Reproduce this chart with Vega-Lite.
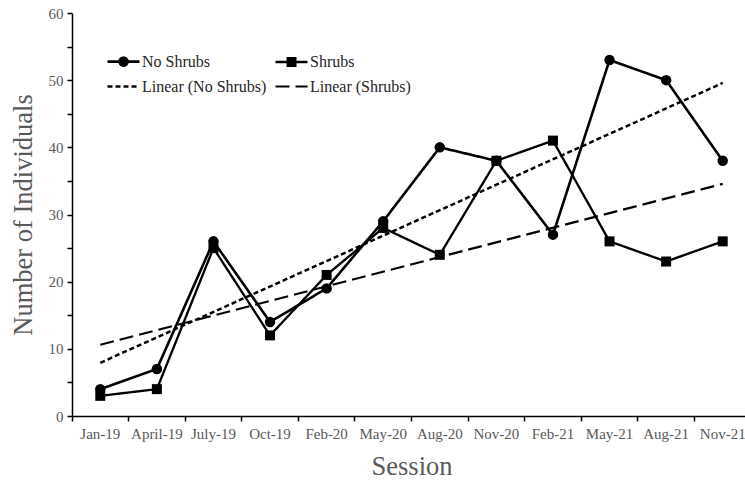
{
  "$schema": "https://vega.github.io/schema/vega-lite/v6.json",
  "width": 673,
  "height": 403,
  "autosize": {"type": "none"},
  "padding": {"left": 72, "top": 13, "right": 0, "bottom": 67},
  "config": {"view": {"stroke": null}, "font": "Liberation Serif", "axis": {"grid": false}},
  "data": {"values": [
    {"session": "Jan-19", "series": "No Shrubs", "value": 4},
    {"session": "April-19", "series": "No Shrubs", "value": 7},
    {"session": "July-19", "series": "No Shrubs", "value": 26},
    {"session": "Oct-19", "series": "No Shrubs", "value": 14},
    {"session": "Feb-20", "series": "No Shrubs", "value": 19},
    {"session": "May-20", "series": "No Shrubs", "value": 29},
    {"session": "Aug-20", "series": "No Shrubs", "value": 40},
    {"session": "Nov-20", "series": "No Shrubs", "value": 38},
    {"session": "Feb-21", "series": "No Shrubs", "value": 27},
    {"session": "May-21", "series": "No Shrubs", "value": 53},
    {"session": "Aug-21", "series": "No Shrubs", "value": 50},
    {"session": "Nov-21", "series": "No Shrubs", "value": 38},
    {"session": "Jan-19", "series": "Shrubs", "value": 3},
    {"session": "April-19", "series": "Shrubs", "value": 4},
    {"session": "July-19", "series": "Shrubs", "value": 25},
    {"session": "Oct-19", "series": "Shrubs", "value": 12},
    {"session": "Feb-20", "series": "Shrubs", "value": 21},
    {"session": "May-20", "series": "Shrubs", "value": 28},
    {"session": "Aug-20", "series": "Shrubs", "value": 24},
    {"session": "Nov-20", "series": "Shrubs", "value": 38},
    {"session": "Feb-21", "series": "Shrubs", "value": 41},
    {"session": "May-21", "series": "Shrubs", "value": 26},
    {"session": "Aug-21", "series": "Shrubs", "value": 23},
    {"session": "Nov-21", "series": "Shrubs", "value": 26},
    {"session": "Jan-19", "series": "Linear (No Shrubs)", "value": 7.92},
    {"session": "Nov-21", "series": "Linear (No Shrubs)", "value": 49.58},
    {"session": "Jan-19", "series": "Linear (Shrubs)", "value": 10.6},
    {"session": "Nov-21", "series": "Linear (Shrubs)", "value": 34.56}
  ]},
  "encoding": {
    "x": {
      "field": "session", "type": "ordinal",
      "sort": ["Jan-19", "April-19", "July-19", "Oct-19", "Feb-20", "May-20", "Aug-20", "Nov-20", "Feb-21", "May-21", "Aug-21", "Nov-21"],
      "scale": {"type": "band", "paddingInner": 0, "paddingOuter": 0, "range": [0, 679]},
      "axis": {
        "title": "Session", "titleFontSize": 26.5, "titleColor": "#595959", "titleFontWeight": "normal", "titlePadding": 12,
        "labelFontSize": 15, "labelColor": "#595959", "labelAngle": 0, "labelOverlap": false,
        "bandPosition": 0, "labelPadding": 5,
        "tickSize": 5, "tickColor": "black", "tickWidth": 1.5, "domainColor": "black", "domainWidth": 1.5
      }
    },
    "y": {
      "field": "value", "type": "quantitative",
      "scale": {"domain": [0, 60], "nice": false},
      "axis": {
        "title": "Number of Individuals", "titleFontSize": 26.5, "titleColor": "#595959", "titleFontWeight": "normal", "titlePadding": 11,
        "values": [0, 5, 10, 15, 20, 25, 30, 35, 40, 45, 50, 55, 60],
        "labelExpr": "datum.value % 10 === 0 ? datum.label : ''",
        "labelFontSize": 15, "labelColor": "#595959", "labelPadding": 4,
        "tickSize": 5, "tickColor": "black", "tickWidth": 1.5, "domainColor": "black", "domainWidth": 1.5
      }
    }
  },
  "layer": [
    {
      "mark": {"type": "line", "color": "black"},
      "encoding": {
        "strokeWidth": {
          "field": "series", "type": "nominal", "legend": null,
          "scale": {"domain": ["No Shrubs", "Linear (No Shrubs)", "Shrubs", "Linear (Shrubs)"], "range": [2.6, 2.2, 2.6, 2.2]}
        },
        "strokeDash": {
          "field": "series", "type": "nominal",
          "scale": {"domain": ["No Shrubs", "Linear (No Shrubs)", "Shrubs", "Linear (Shrubs)"], "range": [[1, 0], [5, 3], [1, 0], [14, 6]]},
          "legend": {
            "title": null, "orient": "none", "legendX": 42, "legendY": 39, "columns": 2,
            "columnPadding": 3, "rowPadding": 6, "symbolSize": 256, "labelOffset": 9,
            "labelFont": "Liberation Serif", "labelFontSize": 16, "labelColor": "#262626",
            "symbolStrokeWidth": 2.5, "symbolStrokeColor": "black", "symbolFillColor": "black", "padding": 0,
            "symbolType": {"expr": "datum.value === 'No Shrubs' ? 'M-2,0L2,0M0.5,0A0.5,0.5 0 1,1 -0.5,0A0.5,0.5 0 1,1 0.5,0Z' : datum.value === 'Shrubs' ? 'M-2,0L2,0M-0.48,-0.48H0.48V0.48H-0.48Z' : 'M-2,0L2,0'"}
          }
        }
      }
    },
    {
      "transform": [{"filter": "datum.series === 'No Shrubs'"}],
      "mark": {"type": "point", "shape": "circle", "filled": true, "color": "black", "opacity": 1, "size": 110}
    },
    {
      "transform": [{"filter": "datum.series === 'Shrubs'"}],
      "mark": {"type": "point", "shape": "square", "filled": true, "color": "black", "opacity": 1, "size": 100}
    }
  ]
}
